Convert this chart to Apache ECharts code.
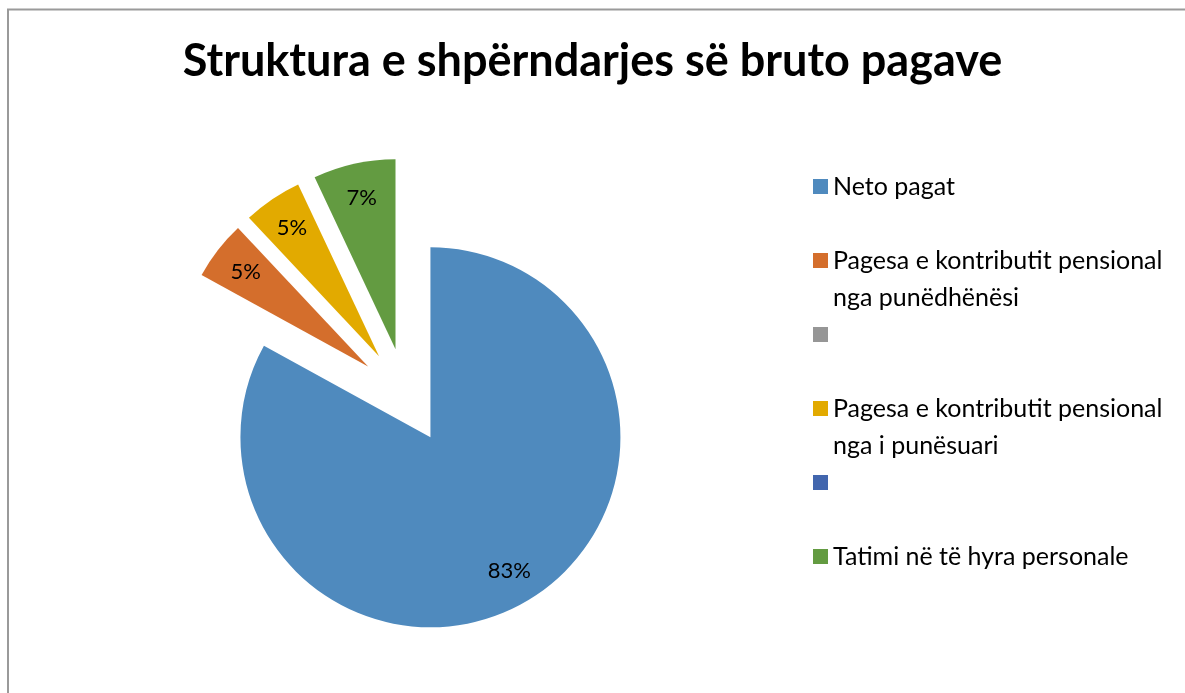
<!DOCTYPE html>
<html>
<head>
<meta charset="utf-8">
<script src="https://cdn.jsdelivr.net/npm/echarts@6/dist/echarts.min.js"></script>
<style>
html,body{margin:0;padding:0;background:#fff;}
#chart{width:1185px;height:693px;}
</style>
</head>
<body>
<div id="chart"></div>
<script>
// Data
var titleText = 'Struktura e shpërndarjes së bruto pagave';
var categories = [
  'Neto pagat',
  'Pagesa e kontributit pensional\nnga punëdhënësi',
  ' ',
  'Pagesa e kontributit pensional\nnga i punësuari',
  '  ',
  'Tatimi në të hyra personale'
];
var values = [83, 5, 0, 5, 0, 7];
var colors = ['#4F8ABE', '#D46E2C', '#969696', '#E2AA00', '#4266AE', '#639B41'];

var chart = echarts.init(document.getElementById('chart'), null, {renderer: 'canvas'});

function buildData(withLabel) {
  return categories.map(function (c, i) {
    return {
      name: c,
      value: values[i],
      selected: true,
      label: {show: withLabel && values[i] > 0}
    };
  });
}

var FONT = 'Lato, "Open Sans", sans-serif';

var option = {
  animation: false,
  color: colors,
  title: {
    text: titleText,
    left: 'center',
    top: 34,
    textStyle: {fontFamily: FONT, fontWeight: 'bold', fontSize: 45, color: '#000'}
  },
  legend: {
    orient: 'vertical',
    left: 813,
    top: 131,
    padding: 0,
    itemWidth: 15,
    itemHeight: 15,
    itemGap: -37,
    icon: 'rect',
    selectedMode: false,
    data: categories,
    formatter: function (name) {
      return '\n' + name + (name.indexOf('\n') >= 0 ? '' : '\n');
    },
    textStyle: {fontFamily: FONT, fontSize: 25, color: '#000', lineHeight: 37}
  },
  graphic: [{
    type: 'rect',
    shape: {x: 8, y: 9.5, width: 1300, height: 800},
    style: {fill: 'none', stroke: '#9a9a9a', lineWidth: 2},
    silent: true
  }],
  series: [
    {
      type: 'pie',
      center: [406, 396],
      radius: [0, 190],
      startAngle: 90,
      clockwise: true,
      selectedMode: 'multiple',
      selectedOffset: 48,
      avoidLabelOverlap: false,
      label: {show: false},
      labelLine: {show: false},
      itemStyle: {borderWidth: 0},
      data: buildData(false)
    },
    {
      type: 'pie',
      center: [406, 396],
      radius: [114, 190],
      startAngle: 90,
      clockwise: true,
      selectedMode: 'multiple',
      selectedOffset: 48,
      avoidLabelOverlap: false,
      silent: true,
      percentPrecision: 0,
      legendHoverLink: false,
      itemStyle: {color: 'rgba(0,0,0,0)', borderWidth: 0},
      label: {
        position: 'inside',
        formatter: '{d}%',
        fontFamily: FONT,
        fontSize: 22,
        color: '#000'
      },
      labelLine: {show: false},
      data: buildData(true)
    }
  ]
};
chart.setOption(option);
</script>
</body>
</html>
